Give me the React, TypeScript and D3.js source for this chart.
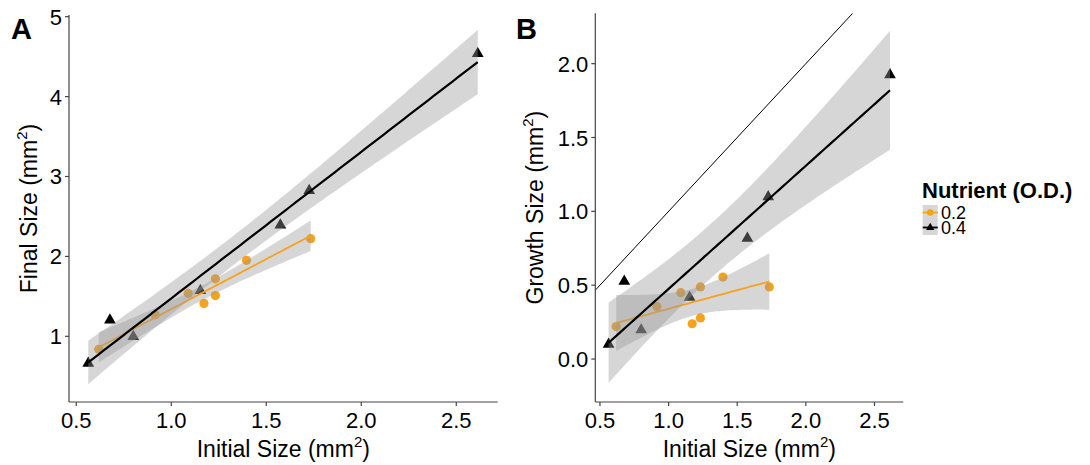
import React from "react";
import * as d3 from "d3";

// Nutrient O.D. 0.2 (orange circles)
const initialLow = [0.618, 0.915, 1.089, 1.172, 1.232, 1.232, 1.396, 1.734];
const finalLow = [0.838, 1.27, 1.538, 1.411, 1.72, 1.51, 1.951, 2.222];
// Nutrient O.D. 0.4 (black triangles)
const initialHigh = [0.563, 0.677, 0.8, 1.153, 1.574, 1.726, 2.613];
const finalHigh = [0.662, 1.203, 0.997, 1.571, 2.391, 2.824, 4.538];

const xTicks = [0.5, 1.0, 1.5, 2.0, 2.5];
const yTicksA = [1, 2, 3, 4, 5];
const yTicksB = [0.0, 0.5, 1.0, 1.5, 2.0];
const legendLabels = ["0.2", "0.4"];

const ORANGE = "#F5A21D";
const FONT = "'Liberation Sans', Arial, Helvetica, sans-serif";

type Pt = { x: number; y: number };

// ordinary least squares with a 95% confidence band, like geom_smooth(method = "lm")
function lmFit(pts: Pt[]) {
  const n = pts.length;
  const mx = d3.mean(pts, (p) => p.x)!;
  const my = d3.mean(pts, (p) => p.y)!;
  const sxx = d3.sum(pts, (p) => (p.x - mx) ** 2);
  const sxy = d3.sum(pts, (p) => (p.x - mx) * (p.y - my));
  const b = sxy / sxx;
  const a = my - b * mx;
  const rss = d3.sum(pts, (p) => (p.y - a - b * p.x) ** 2);
  const sigma = Math.sqrt(rss / (n - 2));
  const tq: Record<number, number> = { 5: 2.5706, 6: 2.4469 };
  const t = tq[n - 2] ?? 2.3;
  const [x0, x1] = d3.extent(pts, (p) => p.x) as [number, number];
  const grid = d3.range(80).map((i) => x0 + ((x1 - x0) * i) / 79);
  return grid.map((x) => {
    const fit = a + b * x;
    const se = sigma * Math.sqrt(1 / n + (x - mx) ** 2 / sxx);
    return { x, fit, lo: fit - t * se, hi: fit + t * se };
  });
}

type Panel = {
  label: string;
  labelX: number;
  left: number;
  right: number;
  top: number;
  bottom: number;
  xDomain: [number, number];
  yDomain: [number, number];
  yTicks: number[];
  yFmt: (v: number) => string;
  yTitle: string;
  yTitleX: number;
  growth: boolean;
};

function PanelPlot({ p }: { p: Panel }) {
  const x = d3.scaleLinear().domain(p.xDomain).range([p.left, p.right]);
  const y = d3.scaleLinear().domain(p.yDomain).range([p.bottom, p.top]);

  const low: Pt[] = initialLow.map((v, i) => ({ x: v, y: p.growth ? finalLow[i] - v : finalLow[i] }));
  const high: Pt[] = initialHigh.map((v, i) => ({ x: v, y: p.growth ? finalHigh[i] - v : finalHigh[i] }));
  const fitLow = lmFit(low);
  const fitHigh = lmFit(high);

  const area = d3
    .area<{ x: number; lo: number; hi: number }>()
    .x((d) => x(d.x))
    .y0((d) => y(d.lo))
    .y1((d) => y(d.hi));
  const line = d3
    .line<{ x: number; fit: number }>()
    .x((d) => x(d.x))
    .y((d) => y(d.fit));
  const tri = d3.symbol().type(d3.symbolTriangle).size(60)()!;
  const clipId = "clip" + p.label;
  const cx = (p.left + p.right) / 2;
  const cy = (p.top + p.bottom) / 2;

  // identity line y = x for the growth panel
  const idLo = Math.max(p.xDomain[0], p.yDomain[0]);
  const idHi = Math.min(p.xDomain[1], p.yDomain[1]);

  return (
    <g>
      <defs>
        <clipPath id={clipId}>
          <rect x={p.left} y={p.top} width={p.right - p.left} height={p.bottom - p.top} />
        </clipPath>
      </defs>
      <g clipPath={`url(#${clipId})`}>
        {low.map((d, i) => (
          <circle key={"l" + i} cx={x(d.x)} cy={y(d.y)} r={4.6} fill={ORANGE} />
        ))}
        {high.map((d, i) => (
          <path key={"h" + i} d={tri} transform={`translate(${x(d.x)},${y(d.y)})`} fill="#000" />
        ))}
        <path d={area(fitLow)!} fill="#999" fillOpacity={0.4} />
        <path d={line(fitLow)!} fill="none" stroke={ORANGE} strokeWidth={1.8} />
        <path d={area(fitHigh)!} fill="#999" fillOpacity={0.4} />
        <path d={line(fitHigh)!} fill="none" stroke="#000" strokeWidth={2.2} />
        {p.growth && (
          <line x1={x(idLo)} y1={y(idLo)} x2={x(idHi)} y2={y(idHi)} stroke="#000" strokeWidth={1} />
        )}
      </g>
      {/* axes */}
      <line x1={p.left} x2={p.left} y1={p.top} y2={p.bottom} stroke="#444" strokeWidth={1.2} />
      <line x1={p.left} x2={p.right} y1={p.bottom} y2={p.bottom} stroke="#444" strokeWidth={1.2} />
      {xTicks.map((t) => (
        <g key={"x" + t}>
          <line x1={x(t)} x2={x(t)} y1={p.bottom} y2={p.bottom + 4} stroke="#444" strokeWidth={1.2} />
          <text x={x(t)} y={428} textAnchor="middle" fontSize={22} fontFamily={FONT} fill="#000">
            {t.toFixed(1)}
          </text>
        </g>
      ))}
      {p.yTicks.map((t) => (
        <g key={"y" + t}>
          <line x1={p.left - 4} x2={p.left} y1={y(t)} y2={y(t)} stroke="#444" strokeWidth={1.2} />
          <text x={p.left - 7} y={y(t) + 8} textAnchor="end" fontSize={22} fontFamily={FONT} fill="#000">
            {p.yFmt(t)}
          </text>
        </g>
      ))}
      <text x={cx} y={457} textAnchor="middle" fontSize={23} fontFamily={FONT} fill="#000">
        Initial Size (mm<tspan fontSize={15} dy={-10}>2</tspan>
        <tspan dy={10}>)</tspan>
      </text>
      <text
        transform={`translate(${p.yTitleX},${cy}) rotate(-90)`}
        textAnchor="middle"
        fontSize={23}
        fontFamily={FONT}
        fill="#000"
      >
        {p.yTitle} (mm<tspan fontSize={15} dy={-10}>2</tspan>
        <tspan dy={10}>)</tspan>
      </text>
      <text x={p.labelX} y={39} fontSize={29} fontWeight="bold" fontFamily={FONT} fill="#000">
        {p.label}
      </text>
    </g>
  );
}

export default function App() {
  const panelA: Panel = {
    label: "A",
    labelX: 11,
    left: 69,
    right: 497.7,
    top: 15,
    bottom: 402,
    xDomain: [0.4616, 2.718],
    yDomain: [0.178, 5.021],
    yTicks: yTicksA,
    yFmt: (v) => String(v),
    yTitle: "Final Size",
    yTitleX: 37,
    growth: false,
  };
  const panelB: Panel = {
    label: "B",
    labelX: 516,
    left: 595.3,
    right: 903.3,
    top: 13.3,
    bottom: 402,
    xDomain: [0.466, 2.71],
    yDomain: [-0.291, 2.341],
    yTicks: yTicksB,
    yFmt: (v) => v.toFixed(1),
    yTitle: "Growth Size",
    yTitleX: 543,
    growth: true,
  };
  const tri = d3.symbol().type(d3.symbolTriangle).size(30)()!;
  const keyX = 922.7;
  const keyY = 205;

  return (
    <svg width={1090} height={465} style={{ position: "absolute", left: 0, top: 0, background: "#fff" }}>
      <PanelPlot p={panelA} />
      <PanelPlot p={panelB} />
      {/* legend */}
      <text x={922} y={198} fontSize={22} fontWeight="bold" fontFamily={FONT} fill="#000">
        Nutrient (O.D.)
      </text>
      {legendLabels.map((lab, i) => {
        const yc = keyY + i * 15 + 7.5;
        return (
          <g key={lab}>
            <rect x={keyX} y={keyY + i * 15} width={15} height={15} fill="#999" fillOpacity={0.4} />
            <line
              x1={keyX}
              x2={keyX + 15}
              y1={yc}
              y2={yc}
              stroke={i === 0 ? ORANGE : "#000"}
              strokeWidth={1.8}
            />
            {i === 0 ? (
              <circle cx={keyX + 7.5} cy={yc} r={3.3} fill={ORANGE} />
            ) : (
              <path d={tri} transform={`translate(${keyX + 7.5},${yc})`} fill="#000" />
            )}
            <text x={941} y={yc + 6.5} fontSize={18} fontFamily={FONT} fill="#000">
              {lab}
            </text>
          </g>
        );
      })}
    </svg>
  );
}
